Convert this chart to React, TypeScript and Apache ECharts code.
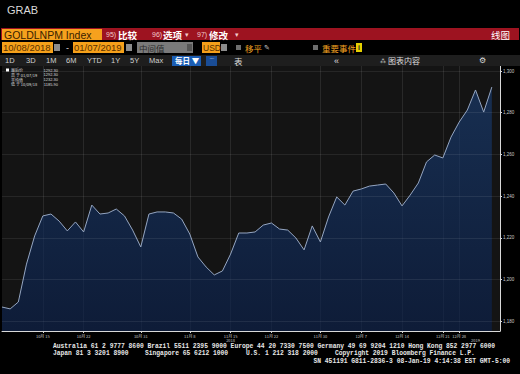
import React, { useEffect, useRef } from "react";
import * as echarts from "echarts";

const dates = [
  "2018-10-08", "2018-10-09", "2018-10-10", "2018-10-11", "2018-10-12",
  "2018-10-15", "2018-10-16", "2018-10-17", "2018-10-18", "2018-10-19",
  "2018-10-22", "2018-10-23", "2018-10-24", "2018-10-25", "2018-10-26",
  "2018-10-29", "2018-10-30", "2018-10-31", "2018-11-01", "2018-11-02",
  "2018-11-05", "2018-11-06", "2018-11-07", "2018-11-08", "2018-11-09",
  "2018-11-12", "2018-11-13", "2018-11-14", "2018-11-15", "2018-11-16",
  "2018-11-19", "2018-11-20", "2018-11-21", "2018-11-22", "2018-11-23",
  "2018-11-26", "2018-11-27", "2018-11-28", "2018-11-29", "2018-11-30",
  "2018-12-03", "2018-12-04", "2018-12-05", "2018-12-06", "2018-12-07",
  "2018-12-10", "2018-12-11", "2018-12-12", "2018-12-13", "2018-12-14",
  "2018-12-17", "2018-12-18", "2018-12-19", "2018-12-20", "2018-12-21",
  "2018-12-27", "2018-12-28", "2019-01-02", "2019-01-03", "2019-01-04",
  "2019-01-07",
];

const prices = [
  1186.8, 1185.9, 1189.2, 1207.4, 1220.9,
  1230.5, 1231.4, 1228.0, 1223.3, 1227.6,
  1222.8, 1235.7, 1231.4, 1231.9, 1233.8,
  1230.5, 1223.7, 1215.6, 1231.4, 1232.4,
  1232.4, 1231.9, 1229.0, 1221.8, 1210.8,
  1206.0, 1202.2, 1204.1, 1212.2, 1222.3,
  1222.3, 1222.8, 1226.1, 1227.1, 1224.2,
  1223.7, 1219.9, 1214.2, 1225.7, 1218.0,
  1230.0, 1239.6, 1235.7, 1242.4, 1243.4,
  1244.8, 1245.3, 1245.8, 1241.5, 1235.3,
  1240.5, 1246.3, 1256.4, 1259.7, 1258.3,
  1268.3, 1275.5, 1281.3, 1290.9, 1280.3,
  1292.3,
];

const xTickDates = [
  "2018-10-15", "2018-10-22", "2018-10-31", "2018-11-08", "2018-11-15",
  "2018-11-22", "2018-11-30", "2018-12-07", "2018-12-14", "2018-12-21",
  "2018-12-28",
];
const yearLabelDates = ["2018-11-15", "2019-01-03"];
const yTicks = [1180, 1200, 1220, 1240, 1260, 1280, 1300];
const Y_MIN = 1175.3;
const Y_MAX = 1302.4;

const footerLines = [
  { x: 53, y: 346.5, t: "Australia 61 2 9777 8600 Brazil 5511 2395 9000 Europe 44 20 7330 7500 Germany 49 69 9204 1210 Hong Kong 852 2977 6000", a: "left" },
  { x: 53, y: 353.5, t: "Japan 81 3 3201 8900", a: "left" },
  { x: 145, y: 353.5, t: "Singapore 65 6212 1000", a: "left" },
  { x: 246, y: 353.5, t: "U.S. 1 212 318 2000", a: "left" },
  { x: 335, y: 353.5, t: "Copyright 2019 Bloomberg Finance L.P.", a: "left" },
  { x: 510, y: 361, t: "SN 451191 G811-2836-3 08-Jan-19 4:14:38 EST GMT-5:00", a: "right" },
];

const periodButtons = [
  { x: 5, t: "1D" }, { x: 26, t: "3D" }, { x: 46, t: "1M" }, { x: 66, t: "6M" },
  { x: 87, t: "YTD" }, { x: 111, t: "1Y" }, { x: 130, t: "5Y" }, { x: 149, t: "Max" },
];

const CJK = "'Noto Sans CJK SC', 'Liberation Sans', sans-serif";
const SANS = "'Liberation Sans', Arial, sans-serif";

function txt(x: number, y: number, text: string, o: any = {}) {
  return {
    type: "text",
    x,
    y,
    z: 100,
    silent: true,
    style: {
      text,
      fill: o.fill || "#ffffff",
      fontSize: o.size || 9,
      fontFamily: o.family || CJK,
      fontWeight: o.weight || "normal",
      align: o.align || "left",
      verticalAlign: "middle",
    },
  };
}
function box(x: number, y: number, w: number, h: number, fill: string) {
  return { type: "rect", z: 99, silent: true, shape: { x, y, width: w, height: h }, style: { fill } };
}

export default function App() {
  const ref = useRef<HTMLDivElement>(null);
  useEffect(() => {
    document.body.style.margin = "0";
    document.body.style.background = "#000";
    const chart = echarts.init(ref.current!, null, { renderer: "svg" });

    const tickIdx = new Set(xTickDates.map((d) => dates.indexOf(d)));
    const yearIdx = new Set(yearLabelDates.map((d) => dates.indexOf(d)));
    const labelIdx = new Set([...tickIdx, ...yearIdx]);
    const last = prices[prices.length - 1];
    const maxV = Math.max(...prices);
    const minV = Math.min(...prices);
    const avg = prices.reduce((a, b) => a + b, 0) / prices.length;
    const fmtD = (d: string) => {
      const [y, m, dd] = d.split("-");
      return `${m}/${dd}/${y.slice(2)}`;
    };
    const hiDate = fmtD(dates[prices.indexOf(maxV)]);
    const loDate = fmtD(dates[prices.indexOf(minV)]);

    const legend = [
      { l: "最后价", v: last },
      { l: "高 于 " + hiDate, v: maxV },
      { l: "平均值", v: avg },
      { l: "低 于 " + loDate, v: minV },
    ];

    const graphics: any[] = [
      txt(7, 10, "GRAB", { size: 11, fill: "#d9d9d9", family: SANS }),
      box(1, 28, 518, 12, "#9d1320"),
      box(2, 29, 100, 11, "#f6a11d"),
      txt(4, 34.7, "GOLDLNPM Index", { size: 10.5, fill: "#3a2200", family: SANS }),
      txt(106, 34.5, "95)", { size: 7, fill: "#f3caca", family: SANS }),
      txt(118, 34.5, "比较", { size: 9.5, weight: "bold" }),
      txt(152, 34.5, "96)", { size: 7, fill: "#f3caca", family: SANS }),
      txt(163, 34.5, "选项", { size: 9.5, weight: "bold" }),
      txt(185, 34.5, "▾", { size: 7, fill: "#f3caca", family: SANS }),
      txt(197, 34.5, "97)", { size: 7, fill: "#f3caca", family: SANS }),
      txt(209, 34.5, "修改", { size: 9.5, weight: "bold" }),
      txt(235, 34.5, "▾", { size: 7, fill: "#f3caca", family: SANS }),
      txt(510, 34.5, "线图", { size: 9.5, align: "right" }),
      box(2, 42, 51, 11, "#f5a01a"),
      txt(3, 47.8, "10/08/2018", { size: 9.5, fill: "#5a3000", family: SANS }),
      box(54, 44, 6, 7, "#8c8c8c"),
      txt(66, 47.5, "-", { size: 9, fill: "#dddddd", family: SANS }),
      box(73, 42, 51, 11, "#f5a01a"),
      txt(74, 47.8, "01/07/2019", { size: 9.5, fill: "#5a3000", family: SANS }),
      box(126, 44, 6, 7, "#8c8c8c"),
      box(137, 42, 56, 11, "#7a7a7a"),
      txt(139, 47.5, "中间值", { size: 8.5, fill: "#2a2a2a" }),
      box(187, 44, 5, 7, "#555555"),
      box(202, 42, 18, 11, "#f5a01a"),
      txt(203, 47.8, "USD", { size: 8.5, fill: "#5a3000", family: SANS }),
      box(221, 44, 6, 7, "#8c8c8c"),
      box(236, 45, 5, 5, "#6e6e6e"),
      txt(245, 47.5, "移平", { size: 8.5, fill: "#f0a020" }),
      txt(264, 47.5, "✎", { size: 7, fill: "#cccccc", family: "'DejaVu Sans'" }),
      box(313, 45, 5, 5, "#6e6e6e"),
      txt(322, 47.5, "重要事件", { size: 8.5, fill: "#f0a020" }),
      box(356, 43, 6, 9, "#e6d000"),
      txt(359, 47.8, "i", { size: 7, fill: "#222", family: SANS, align: "center", weight: "bold" }),
      box(0, 55, 520, 11, "#1e1e1e"),
      ...periodButtons.map((b) => txt(b.x, 60.8, b.t, { size: 7.5, fill: "#d0d0d0", family: SANS })),
      box(172, 56, 29, 10, "#1b5db3"),
      txt(175, 60.8, "每日 ▼", { size: 7.5, weight: "bold" }),
      box(206, 56, 11, 10, "#1a4d96"),
      txt(211.5, 60.8, "⌒", { size: 6, fill: "#cfe0ff", align: "center", family: "'DejaVu Sans'" }),
      txt(234, 60.8, "表", { size: 8.5, fill: "#dddddd" }),
      txt(334, 60.5, "«", { size: 9, fill: "#dddddd", family: SANS }),
      txt(380, 60.8, "⁂", { size: 6, fill: "#cccccc", family: "'DejaVu Sans'" }),
      txt(388, 60.8, "图表内容", { size: 8, fill: "#dddddd" }),
      txt(479, 60.8, "⚙", { size: 8, fill: "#dddddd", family: "'DejaVu Sans'" }),
      box(6, 68.5, 3, 3, "#ffffff"),
      ...legend.flatMap((r, i) => [
        txt(11, 70 + i * 4.8, r.l, { size: 4, fill: "#dddddd" }),
        txt(58, 70 + i * 4.8, r.v.toFixed(2), { size: 4, fill: "#dddddd", family: SANS, align: "right" }),
      ]),
      ...footerLines.map((f) =>
        txt(f.x, f.y, f.t, {
          size: 6.3,
          fill: "#e8e8e8",
          family: "'Liberation Mono', 'DejaVu Sans Mono', monospace",
          weight: "bold",
          align: f.a,
        })
      ),
    ];

    const showIdx = (i: number) => tickIdx.has(i);

    chart.setOption({
      animation: false,
      backgroundColor: "#000000",
      grid: {
        left: 2,
        right: 20,
        top: 66,
        bottom: 43,
        show: true,
        backgroundColor: "#141414",
        borderWidth: 0,
      },
      xAxis: {
        type: "category",
        data: [...dates, ""],
        boundaryGap: false,
        axisLine: { show: true, lineStyle: { color: "#d8d8d8", width: 1 } },
        axisTick: { show: true, interval: (i: number) => showIdx(i), length: 2, lineStyle: { color: "#d8d8d8" } },
        axisLabel: {
          interval: (i: number) => labelIdx.has(i),
          fontSize: 4,
          lineHeight: 4.5,
          color: "#c8c8c8",
          margin: 2.5,
          fontFamily: CJK,
          hideOverlap: false,
          formatter: (v: string, i: number) => {
            if (!v) return "";
            const [y, m, d] = v.split("-");
            const main = tickIdx.has(i) ? `${+m}月 ${+d}` : "";
            return yearIdx.has(i) ? `${main}\n${y}` : main;
          },
        },
        splitLine: {
          show: true,
          interval: (i: number) => showIdx(i),
          lineStyle: { color: "rgba(255,255,255,0.09)", width: 1 },
        },
      },
      yAxis: {
        type: "value",
        position: "right",
        min: Y_MIN,
        max: Y_MAX,
        axisLine: { show: true, lineStyle: { color: "#d8d8d8", width: 1 } },
        axisTick: { show: true, length: 2, customValues: yTicks, lineStyle: { color: "#d8d8d8" } },
        axisLabel: {
          customValues: yTicks,
          fontSize: 4.5,
          color: "#c8c8c8",
          margin: 3,
          fontFamily: SANS,
        },
        splitLine: { show: false },
      },
      series: [
        {
          type: "line",
          data: [...prices, "-"],
          symbol: "none",
          lineStyle: { color: "#95a6c2", width: 1 },
          areaStyle: {
            origin: "start",
            color: new echarts.graphic.LinearGradient(0, 0, 0, 1, [
              { offset: 0, color: "rgba(25,60,112,0.94)" },
              { offset: 1, color: "rgba(11,32,74,0.94)" },
            ]),
          },
          markLine: {
            silent: true,
            symbol: "none",
            animation: false,
            data: [
              ...yTicks.map((v) => ({
                yAxis: v,
                lineStyle: { color: "rgba(255,255,255,0.08)", width: 1, type: "solid" },
                label: { show: false },
              })),
              {
                yAxis: last,
                lineStyle: { opacity: 0 },
                label: {
                  show: true,
                  position: "end",
                  distance: 2,
                  formatter: () => last.toFixed(2),
                  backgroundColor: "#f2f2f2",
                  color: "#000000",
                  fontSize: 4.5,
                  fontFamily: SANS,
                  padding: [1, 1],
                },
              },
            ],
          },
        },
      ],
      graphic: graphics,
    });
    return () => chart.dispose();
  }, []);
  return (
    <div
      ref={ref}
      style={{ position: "fixed", left: 0, top: 0, width: 520, height: 374, background: "#000" }}
    />
  );
}
